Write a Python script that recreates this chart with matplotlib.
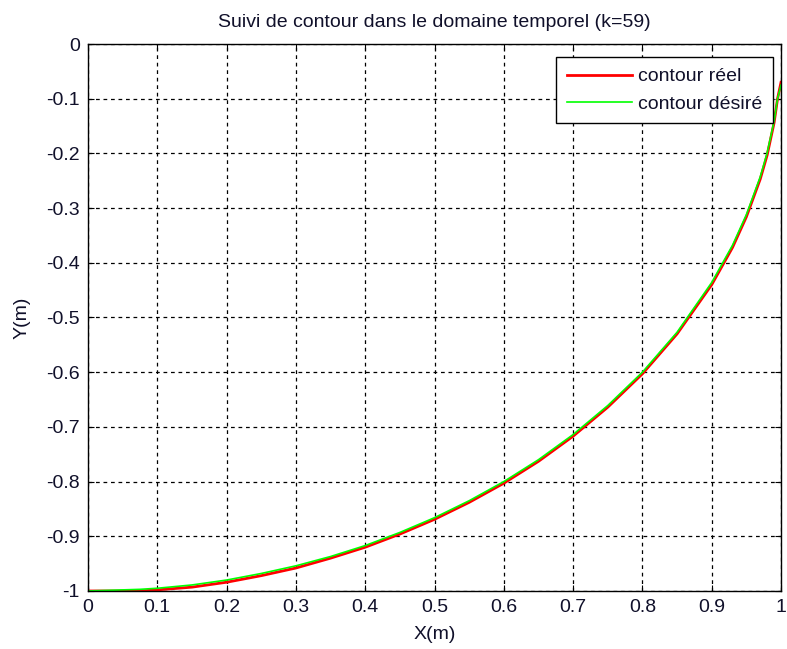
import numpy as np
import matplotlib
matplotlib.use("Agg")
import matplotlib.pyplot as plt

plt.rcParams['font.family'] = ['Liberation Sans', 'DejaVu Sans']

x_pts = [0, 0.075, 0.1, 0.15, 0.2, 0.25, 0.3, 0.35, 0.4, 0.45, 0.5, 0.55, 0.6,
         0.65, 0.7, 0.75, 0.8, 0.85, 0.9, 0.93, 0.95, 0.97, 0.98, 0.99, 0.995, 1.0]
y_desire = [-1, -0.997, -0.995, -0.989, -0.98, -0.968, -0.954, -0.937, -0.917,
            -0.893, -0.866, -0.835, -0.8, -0.76, -0.714, -0.661, -0.6, -0.527,
            -0.436, -0.368, -0.312, -0.243, -0.199, -0.141, -0.1, -0.075]
y_reel = [-1, -1, -0.998, -0.993, -0.984, -0.972, -0.958, -0.940, -0.920,
          -0.896, -0.869, -0.838, -0.803, -0.763, -0.717, -0.664, -0.603, -0.530,
          -0.440, -0.372, -0.316, -0.247, -0.203, -0.144, -0.1, -0.07]

xticks = np.round(np.arange(0, 1.01, 0.1), 1)
yticks = np.round(np.arange(-1, 0.01, 0.1), 1)

fs = 14
fig = plt.figure(figsize=(7.87, 6.49), dpi=100)
ax = fig.add_axes([0.1118, 0.0894, 0.8806, 0.8428])

ax.plot(x_pts, y_reel, color='#ff0000', lw=2, label='contour réel')
ax.plot(x_pts, y_desire, color='#00ff00', lw=1.2, label='contour désiré')

ax.set_xlim(0, 1)
ax.set_ylim(-1, 0)
ax.set_xticks(xticks)
ax.set_yticks(yticks)
ax.set_xticklabels(['0' if v == 0 else f'{v:g}' for v in xticks])
ax.set_yticklabels(['0' if v == 0 else f'{v:g}' for v in yticks])
ax.tick_params(direction='in', labelsize=fs, length=4, pad=6, top=True, right=True,
               labelcolor='#10102a')
ax.grid(True, color='black', ls=(0, (3, 3)), lw=0.9)
for s in ax.spines.values():
    s.set_linewidth(1)

ax.set_xlabel('X(m)', fontsize=fs, labelpad=7, color='#10102a')
ax.set_ylabel('Y(m)', fontsize=fs, labelpad=11, color='#10102a')
ax.set_title('Suivi de contour dans le domaine temporel (k=59)', fontsize=fs,
             pad=12, color='#10102a')

leg = ax.legend(loc='upper right', bbox_to_anchor=(0.9885, 0.976), fontsize=fs,
                fancybox=False, framealpha=1, edgecolor='black', borderaxespad=0,
                handlelength=3.35, handletextpad=0.3, borderpad=0.55,
                labelcolor='#10102a')
leg.get_frame().set_linewidth(1)

fig.savefig('out.png', dpi=100)
